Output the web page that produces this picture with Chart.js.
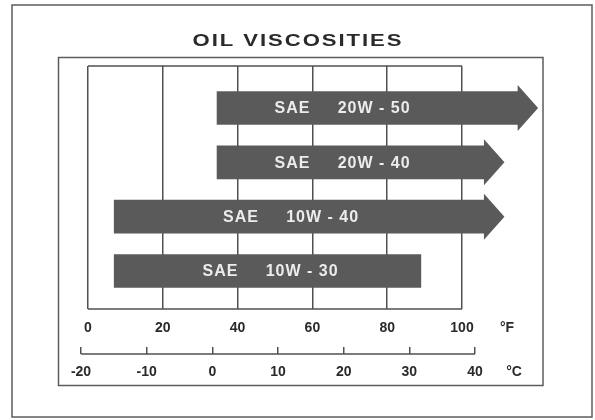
<!DOCTYPE html>
<html>
<head>
<meta charset="utf-8">
<title>Oil viscosities</title>
<script src="https://cdn.jsdelivr.net/npm/chart.js"></script>
<style>
  body { margin: 0; background: #fff; }
  #wrap { width: 595px; height: 420px; }
</style>
</head>
<body>
<div id="wrap"><canvas id="oilChart" width="595" height="420"></canvas></div>
<script>
// SAE grades and the temperature range (deg F) each one is good for
const grades = ['20W - 50', '20W - 40', '10W - 40', '10W - 30'];
const lowF = [34.5, 34.5, 7, 7];
const highF = [115, 106, 106, 89];
// true where the range keeps going past the hot end (drawn as an arrow)
const openEnded = [true, true, true, false];

const fTicks = [0, 20, 40, 60, 80, 100];
const cTicks = [-20, -10, 0, 10, 20, 30, 40];

const INK = '#2a2a2a';
const LINE = '#505050';
const BAR = '#5a5a5a';
const FONT = '"Liberation Sans", Arial, sans-serif';

const HEAD_LEN = 20;
const HEAD_HALF = 23;

const decor = {
  id: 'decor',
  beforeDraw(chart) {
    const ctx = chart.ctx;
    ctx.save();
    ctx.fillStyle = '#fff';
    ctx.fillRect(0, 0, chart.width, chart.height);
    ctx.strokeStyle = '#5c5c5c';
    ctx.lineWidth = 1.5;
    ctx.strokeRect(12, 5, 580, 412);
    ctx.strokeRect(58.5, 57.5, 484.5, 328);
    ctx.restore();
  },
  afterDatasetsDraw(chart) {
    const ctx = chart.ctx;
    const f = chart.scales.x;
    const c = chart.scales.c;
    const area = chart.chartArea;
    const x0 = f.getPixelForValue(fTicks[0]);
    const x100 = f.getPixelForValue(fTicks[fTicks.length - 1]);

    ctx.save();
    // top and bottom edges of the F grid box
    ctx.strokeStyle = LINE;
    ctx.lineWidth = 1.5;
    ctx.beginPath();
    ctx.moveTo(x0, area.top);
    ctx.lineTo(x100, area.top);
    ctx.moveTo(x0, area.bottom);
    ctx.lineTo(x100, area.bottom);
    // celsius axis line, under its tick marks
    const cy = c.top + c.options.grid.tickLength;
    ctx.moveTo(c.getPixelForValue(cTicks[0]), cy);
    ctx.lineTo(c.getPixelForValue(cTicks[cTicks.length - 1]), cy);
    ctx.stroke();

    // arrow heads and grade names on the bars
    const meta = chart.getDatasetMeta(0);
    meta.data.forEach((bar, i) => {
      const p = bar.getProps(['x', 'y', 'base'], true);
      if (openEnded[i]) {
        ctx.fillStyle = BAR;
        ctx.beginPath();
        ctx.moveTo(p.x - 0.5, p.y - HEAD_HALF);
        ctx.lineTo(p.x + HEAD_LEN, p.y);
        ctx.lineTo(p.x - 0.5, p.y + HEAD_HALF);
        ctx.closePath();
        ctx.fill();
      }
      const cx = (p.base + Math.min(p.x, x100)) / 2 + 3;
      ctx.fillStyle = '#ececec';
      ctx.font = 'bold 16px ' + FONT;
      ctx.letterSpacing = '1px';
      ctx.textAlign = 'center';
      ctx.textBaseline = 'middle';
      ctx.fillText('SAE     ' + grades[i], cx, p.y + 1);
    });

    // unit marks beside the tick rows
    ctx.fillStyle = INK;
    ctx.font = 'bold 14px ' + FONT;
    ctx.letterSpacing = '0px';
    ctx.textAlign = 'center';
    ctx.textBaseline = 'middle';
    ctx.fillText('°F', x100 + 45, f.top + 19);
    ctx.fillText('°C', c.getPixelForValue(40) + 39, c.top + 25);

    // title, set wide
    ctx.font = 'bold 17px ' + FONT;
    ctx.letterSpacing = '1.5px';
    ctx.translate(298, 41);
    ctx.scale(1.3, 1);
    ctx.fillText('OIL VISCOSITIES', 0, 0);
    ctx.restore();
  }
};

new Chart(document.getElementById('oilChart'), {
  type: 'bar',
  data: {
    datasets: [{
      data: grades.map((g, i) => ({ x: [lowF[i], highF[i]], y: i + 1 })),
      backgroundColor: BAR,
      borderWidth: 0,
      borderSkipped: false,
      barThickness: 33
    }]
  },
  options: {
    indexAxis: 'y',
    responsive: false,
    animation: false,
    events: [],
    layout: { padding: { left: 60, right: 50, top: 66, bottom: 33 } },
    plugins: { legend: { display: false }, tooltip: { enabled: false } },
    scales: {
      y: {
        type: 'linear',
        display: false,
        offset: false,
        reverse: true,
        min: 0.227,
        max: 4.7
      },
      x: {
        type: 'linear',
        position: 'bottom',
        weight: 0,
        min: -7.49,
        max: 122.19,
        afterBuildTicks: (s) => { s.ticks = fTicks.map(v => ({ value: v })); },
        afterFit: (s) => { s.height = 38; },
        grid: { color: LINE, lineWidth: 1.5, drawTicks: false },
        border: { display: false },
        ticks: {
          autoSkip: false,
          maxRotation: 0,
          padding: 11,
          color: INK,
          font: { family: FONT, size: 14, weight: 'bold' }
        }
      },
      c: {
        type: 'linear',
        axis: 'x',
        position: 'bottom',
        weight: 1,
        min: -23.2,
        max: 50.66,
        afterBuildTicks: (s) => { s.ticks = cTicks.map(v => ({ value: v })); },
        afterFit: (s) => { s.height = 40; },
        grid: { drawOnChartArea: false, drawTicks: true, tickLength: 7, color: LINE, lineWidth: 1.5 },
        border: { display: false },
        ticks: {
          autoSkip: false,
          maxRotation: 0,
          padding: 10,
          color: INK,
          font: { family: FONT, size: 14, weight: 'bold' }
        }
      }
    }
  },
  plugins: [decor]
});
</script>
</body>
</html>
